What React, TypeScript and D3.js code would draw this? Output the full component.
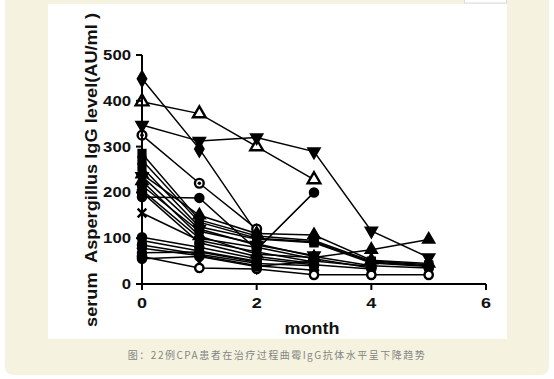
import React from "react";
import * as d3 from "d3";

const months = [0, 1, 2, 3, 4, 5];
const yTicks = [0, 100, 200, 300, 400, 500];
const xTicks = [0, 2, 4, 6];

const s1 = [448, 295, 112, null, null, null];
const s2 = [398, 372, 300, 228, null, null];
const s3 = [347, 312, 320, 289, 116, 58];
const s4 = [325, 220, 120, null, null, null];
const s5 = [190, 188, 75, 200, null, null];
const s6 = [285, 140, 105, 95, 50, 42];
const s7 = [270, 135, 100, 92, 48, 40];
const s8 = [255, 125, 98, 90, 46, 38];
const s9 = [240, 150, 110, 107, 52, 45];
const s10 = [225, 105, 65, 58, 75, 97];
const s11 = [155, 95, 70, 48, null, null];
const s12 = [215, 115, 88, 60, 40, 35];
const s13 = [205, 100, 80, 55, 35, null];
const s14 = [200, 90, 60, 45, null, null];
const s15 = [235, 120, 85, 62, null, null];
const s16 = [102, 80, 55, 42, 33, null];
const s17 = [95, 72, 50, null, null, null];
const s18 = [85, 65, 45, 40, null, null];
const s19 = [78, 62, 40, 30, null, null];
const s20 = [60, 35, 33, 20, 20, 20];
const s21 = [55, 60, 38, 50, 38, null];
const s22 = [68, 70, 48, null, null, null];

const seriesList = [s1, s2, s3, s4, s5, s6, s7, s8, s9, s10, s11, s12, s13, s14, s15, s16, s17, s18, s19, s20, s21, s22];
const markers = [
  "diamond", "triOpen", "triDown", "circleDot", "circle", "square", "square", "square",
  "triangle", "triangle", "x", "circle", "diamond", "circle", "triDown", "circle",
  "square", "circle", "diamond", "circleOpen", "circle", "circle",
];

const yTitle = "serum  Aspergillus IgG level(AU/ml )";
const xTitle = "month";
const caption = "图：22例CPA患者在治疗过程曲霉IgG抗体水平呈下降趋势";

const W = 554, H = 379;
const x = d3.scaleLinear().domain([0, 6]).range([142, 486]);
const y = d3.scaleLinear().domain([0, 500]).range([284, 55]);

function Marker({ type, cx, cy }: { type: string; cx: number; cy: number }) {
  let sym: any = d3.symbolCircle;
  let size = 60;
  let rot = 0;
  let open = false;
  if (type === "diamond") { sym = d3.symbolDiamond; size = 70; }
  if (type === "triOpen") { sym = d3.symbolTriangle; size = 70; open = true; }
  if (type === "triangle") { sym = d3.symbolTriangle; size = 60; }
  if (type === "triDown") { sym = d3.symbolTriangle; size = 60; rot = 180; }
  if (type === "circleOpen") { open = true; size = 55; }
  if (type === "circleDot") { open = true; size = 60; }
  if (type === "square") { sym = d3.symbolSquare; size = 55; }
  if (type === "x") { sym = d3.symbolTimes; size = 50; }
  const d = d3.symbol().type(sym).size(size)() as string;
  const isX = type === "x";
  return (
    <g transform={`translate(${cx},${cy})`}>
      <path
        d={d}
        transform={`rotate(${rot})`}
        fill={isX ? "none" : open ? "#fff" : "#000"}
        stroke="#000"
        strokeWidth={isX ? 2.4 : open ? 2.4 : 1.8}
      />
      {type === "circleDot" ? <circle r={1.8} fill="#000" /> : null}
    </g>
  );
}

export default function App() {
  const line = d3
    .line<[number, number | null]>()
    .defined((d) => d[1] !== null)
    .x((d) => x(d[0]))
    .y((d) => y(d[1] as number));

  return (
    <svg width={W} height={H} style={{ position: "absolute", left: 0, top: 0 }}>
      <rect x={0} y={0} width={W} height={H} fill="#ffffff" />
      <rect x={5} y={-20} width={544} height={395} rx={8} fill="#f5f3df" />
      <rect x={48} y={4} width={459} height={335} fill="#ffffff" />
      <rect x={464.5} y={-1} width={42} height={4} fill="#ffffff" stroke="#dddddd" strokeWidth={1} />

      {/* lines */}
      {seriesList.map((s, i) => (
        <path
          key={"l" + i}
          d={line(months.map((m, j) => [m, s[j]] as [number, number | null])) || ""}
          fill="none"
          stroke="#000"
          strokeWidth={1.5}
        />
      ))}
      {/* markers */}
      {seriesList.map((s, i) =>
        months.map((m, j) =>
          s[j] === null ? null : (
            <Marker key={`m${i}-${j}`} type={markers[i]} cx={x(m)} cy={y(s[j] as number)} />
          )
        )
      )}

      {/* axes */}
      <line x1={x(0)} x2={x(0)} y1={y(500)} y2={y(0) + 6} stroke="#000" strokeWidth={2} />
      <line x1={x(0)} x2={x(6)} y1={y(0)} y2={y(0)} stroke="#000" strokeWidth={2} />
      {yTicks.map((t) => (
        <g key={"yt" + t}>
          <line x1={x(0) - 6} x2={x(0)} y1={y(t)} y2={y(t)} stroke="#000" strokeWidth={2} />
          <text
            x={131}
            y={y(t) + 5}
            textAnchor="end"
            fontFamily="Liberation Sans, Arial, sans-serif"
            fontWeight="bold"
            fontSize={14}
            textLength={String(t).length * 9.3}
            lengthAdjust="spacingAndGlyphs"
            fill="#111"
          >
            {t}
          </text>
        </g>
      ))}
      {xTicks.map((t) => (
        <g key={"xt" + t}>
          <line x1={x(t)} x2={x(t)} y1={y(0)} y2={y(0) + 6} stroke="#000" strokeWidth={2} />
          <text
            x={x(t)}
            y={308}
            textAnchor="middle"
            fontFamily="Liberation Sans, Arial, sans-serif"
            fontWeight="bold"
            fontSize={15}
            textLength={10}
            lengthAdjust="spacingAndGlyphs"
            fill="#111"
          >
            {t}
          </text>
        </g>
      ))}
      <text
        x={312}
        y={334}
        textAnchor="middle"
        fontFamily="Liberation Sans, Arial, sans-serif"
        fontWeight="bold"
        fontSize={17}
        textLength={55}
        lengthAdjust="spacingAndGlyphs"
        fill="#111"
      >
        {xTitle}
      </text>
      <text
        transform={`translate(97,170) rotate(-90)`}
        textAnchor="middle"
        fontFamily="Liberation Sans, Arial, sans-serif"
        fontWeight="bold"
        fontSize={17}
        textLength={314}
        lengthAdjust="spacingAndGlyphs"
        fill="#111"
        style={{ whiteSpace: "pre" }}
      >
        {yTitle}
      </text>
      <text
        x={277}
        y={359}
        textAnchor="middle"
        fontFamily="Noto Sans CJK SC, sans-serif"
        fontSize={10}
        letterSpacing={1.5}
        fill="#858585"
      >
        {caption}
      </text>
    </svg>
  );
}
